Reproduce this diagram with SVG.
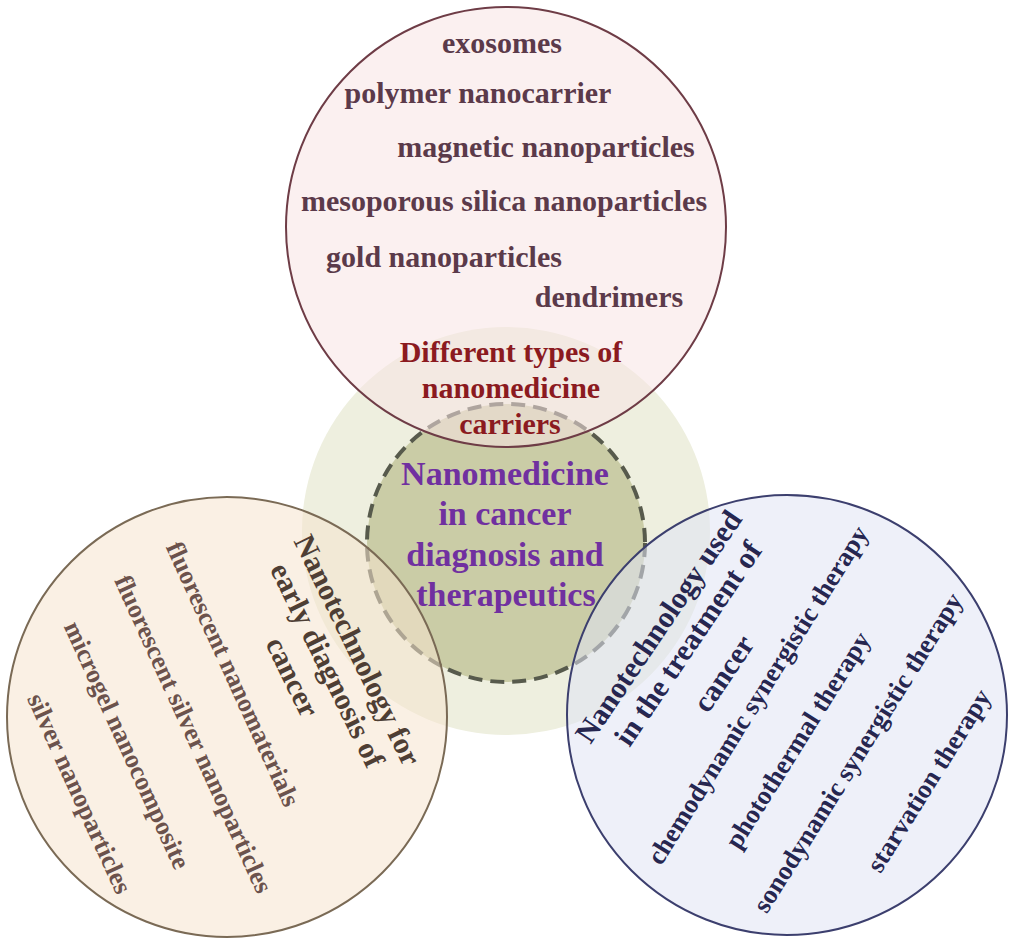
<svg xmlns="http://www.w3.org/2000/svg" width="1015" height="946" viewBox="0 0 1015 946">
<style>
  text { font-family: "Liberation Serif", "Times New Roman", serif; font-weight: bold; text-anchor: middle; }
  .top-item { font-size: 30px; fill: #5b3a4a; }
  .top-head { font-size: 30px; fill: #8b1a1f; }
  .center { font-size: 34px; fill: #7030a0; }
  .left-head { font-size: 30px; fill: #4e3e34; }
  .left-item { font-size: 26px; fill: #6b524c; }
  .right-head { font-size: 30px; fill: #262650; }
  .right-item { font-size: 26.5px; fill: #262650; }
  .outer { fill-opacity: 0.55; stroke-width: 2; }
</style>
<rect width="1015" height="946" fill="#ffffff"/>

<g id="center-node">
  <circle cx="506" cy="531" r="204" fill="#eeefdf"/>
  <circle cx="506" cy="543" r="139" fill="#cacca6" stroke="#575a4c" stroke-width="4" stroke-dasharray="14 8"/>
</g>

<g id="connectors"></g>

<g id="top-node">
  <circle class="outer" cx="506" cy="227" r="220" fill="#f8e4e4" stroke="#6e3c46"/>
</g>
<g id="left-node">
  <circle class="outer" cx="227" cy="717" r="220" fill="#f6e4ce" stroke="#7a6a55"/>
</g>
<g id="right-node">
  <circle class="outer" cx="787" cy="715" r="220" fill="#e0e4f4" stroke="#3c3f6e"/>
</g>

<g id="top-texts">
  <text class="top-item" x="502" y="53">exosomes</text>
  <text class="top-item" x="478" y="103">polymer nanocarrier</text>
  <text class="top-item" x="546" y="157">magnetic nanoparticles</text>
  <text class="top-item" x="504" y="211">mesoporous silica nanoparticles</text>
  <text class="top-item" x="444" y="267">gold nanoparticles</text>
  <text class="top-item" x="609" y="307">dendrimers</text>
  <text class="top-head" x="511" y="362">Different types of</text>
  <text class="top-head" x="511" y="398">nanomedicine</text>
  <text class="top-head" x="510" y="434">carriers</text>
</g>

<g id="center-texts">
  <text class="center" x="505" y="485">Nanomedicine</text>
  <text class="center" x="505" y="525">in cancer</text>
  <text class="center" x="505" y="566">diagnosis and</text>
  <text class="center" x="506" y="606">therapeutics</text>
</g>

<g id="left-texts">
  <text class="left-head" transform="translate(357.5,650) rotate(64)" x="0" y="10">Nanotechnology for</text>
  <text class="left-head" transform="translate(327.5,665) rotate(64)" x="0" y="10">early diagnosis of</text>
  <text class="left-head" transform="translate(292.5,677) rotate(64)" x="0" y="10">cancer</text>
  <text class="left-item" transform="translate(233,674) rotate(65.5)" x="0" y="8.6">fluorescent nanomaterials</text>
  <text class="left-item" transform="translate(193.5,734) rotate(65.5)" x="0" y="8.6">fluorescent silver nanoparticles</text>
  <text class="left-item" transform="translate(127,745) rotate(65.5)" x="0" y="8.6">microgel nanocomposite</text>
  <text class="left-item" transform="translate(79.5,793.5) rotate(65.5)" x="0" y="8.6">silver nanoparticles</text>
</g>

<g id="right-texts">
  <text class="right-head" transform="translate(658.5,626.5) rotate(-56)" x="0" y="10">Nanotechnology used</text>
  <text class="right-head" transform="translate(688,643.5) rotate(-56)" x="0" y="10">in the treatment of</text>
  <text class="right-head" transform="translate(723.5,673.5) rotate(-56)" x="0" y="10">cancer</text>
  <text class="right-item" transform="translate(757.5,695) rotate(-58)" x="0" y="9">chemodynamic synergistic therapy</text>
  <text class="right-item" transform="translate(797.5,740) rotate(-58)" x="0" y="9">photothermal therapy</text>
  <text class="right-item" transform="translate(857.5,752.5) rotate(-58)" x="0" y="9">sonodynamic synergistic therapy</text>
  <text class="right-item" transform="translate(928.5,780.5) rotate(-58)" x="0" y="9">starvation therapy</text>
</g>
</svg>
